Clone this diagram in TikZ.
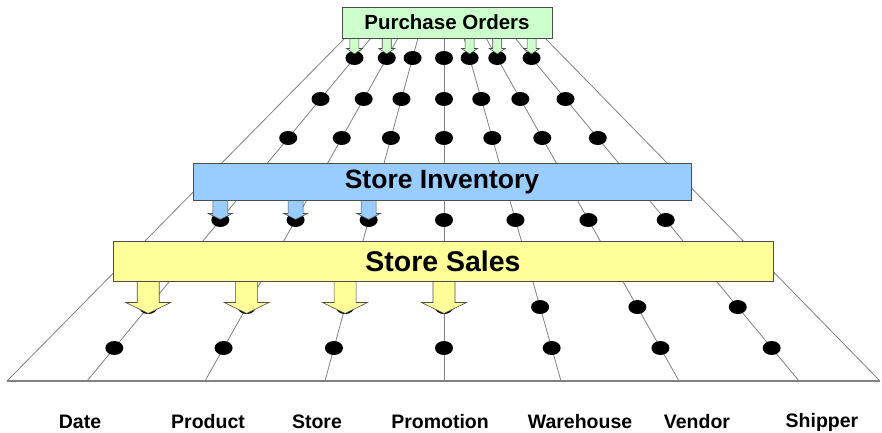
\documentclass[tikz,border=0pt]{standalone}
\usepackage{fontspec}
\setmainfont{Liberation Sans}
\usetikzlibrary{calc,shapes.geometric}
\definecolor{pogreen}{HTML}{CCFFCC}
\definecolor{siblue}{HTML}{99CCFF}
\definecolor{ssyellow}{HTML}{FFFF99}
\definecolor{linegray}{HTML}{808080}
\definecolor{boxborder}{HTML}{4D4D4D}
\tikzset{
  gridline/.style={draw=linegray, line width=0.8pt},
  floorline/.style={draw=linegray, line width=1.8pt},
  dot/.style={ellipse, fill=black, minimum width=18pt, minimum height=14pt, inner sep=0pt},
  factbox/.style={draw=boxborder, line width=0.9pt, rectangle, inner sep=0pt, font=\bfseries},
  dimlabel/.style={font=\fontsize{19.5}{19.5}\selectfont\bfseries, inner sep=0pt},
  arrowfill/.style={draw=boxborder, line width=0.6pt, fill=#1},
  pics/barrow/.style n args={4}{code={
    \path[pic actions] (-#1,0) -- (-#1,#3) -- (-#2,#3) -- (0,{#3+#4}) -- (#2,#3) -- (#1,#3) -- (#1,0) -- cycle;
  }}
}
\begin{document}
\begin{tikzpicture}[x=1pt,y=-1pt]
\useasboundingbox (0,0) rectangle (882,432);
% grid line end points
\foreach \i/\xb/\xt in {0/7/345,1/87/371,2/205/398,3/325/418,4/444/444,5/561/464,6/679/486,7/799/515,8/880/545}{
  \coordinate (b\i) at (\xb,381);
  \coordinate (t\i) at (\xt,38);
}
\foreach \i in {0,...,8} \draw[gridline] (b\i) -- (t\i);
\draw[floorline] (b0) -- (b8);
% dots
\foreach \r/\t in {1/0.9417,2/0.8222,3/0.7085,4/0.4694,5/0.2157,6/0.0962}
  \foreach \i in {1,...,7}
    \node[dot] (d\r-\i) at ($(b\i)!\t!(t\i)$) {};
% boxes
\node[factbox, fill=pogreen, minimum width=210pt, minimum height=31pt, font=\fontsize{20.5}{20.5}\selectfont\bfseries] (po) at (447,22.5) {Purchase Orders};
\node[factbox, fill=siblue, minimum width=498pt, minimum height=37pt, font=\fontsize{26.5}{26.5}\selectfont\bfseries] (si) at (442,181.5) {Store Inventory};
\node[factbox, fill=ssyellow, minimum width=660pt, minimum height=40pt, font=\fontsize{28.5}{28.5}\selectfont\bfseries] (ss) at (443,261) {Store Sales};
% block arrows
\foreach \i in {1,2,5,6,7}
  \pic[arrowfill=pogreen] at (d1-\i |- po.south) {barrow={4.5}{8}{10}{5.5}};
\foreach \i in {1,2,3}
  \pic[arrowfill=siblue] at (d4-\i |- si.south) {barrow={7.5}{12}{13}{6}};
\foreach \i in {1,2,3,4}
  \pic[arrowfill=ssyellow] at (d5-\i |- ss.south) {barrow={11}{22.5}{21}{11}};
% dimension labels
\node[dimlabel] (ldate) at (80,422) {Date};
\node[dimlabel] (lproduct) at (208,422) {Product};
\node[dimlabel] (lstore) at (317,422) {Store};
\node[dimlabel] (lpromo) at (440,422) {Promotion};
\node[dimlabel] (lware) at (580,422) {Warehouse};
\node[dimlabel] (lvendor) at (697,422) {Vendor};
\node[dimlabel] (lship) at (822,422) {Shipper};
\end{tikzpicture}
\end{document}
